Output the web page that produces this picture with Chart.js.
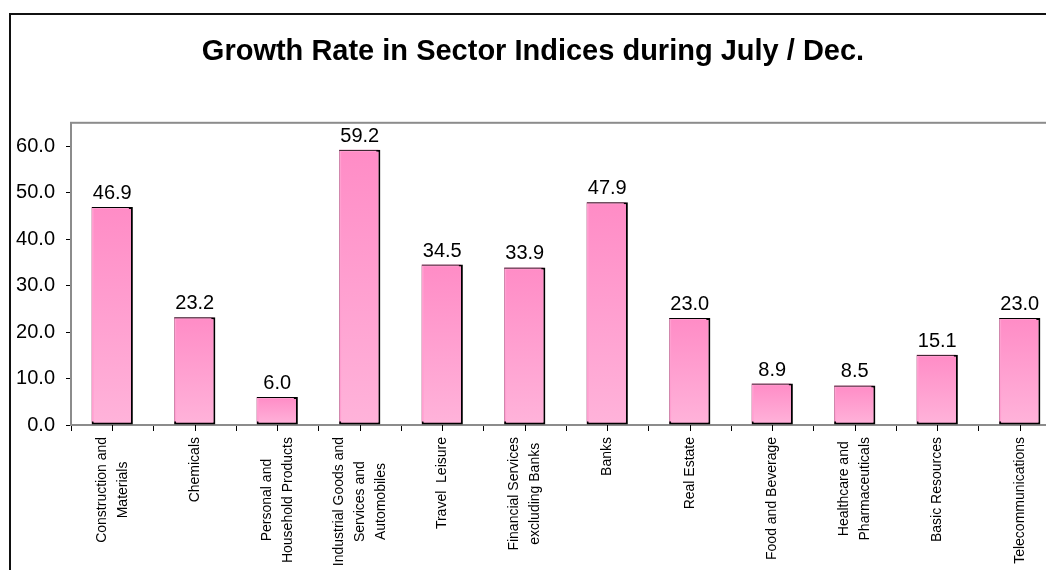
<!DOCTYPE html>
<html>
<head>
<meta charset="utf-8">
<script src="https://cdn.jsdelivr.net/npm/chart.js@4"></script>
<style>
  html, body { margin: 0; padding: 0; background: #fff; overflow: hidden; }
  #frame {
    position: absolute; left: 9px; top: 13px; width: 1100px; height: 620px;
    border-left: 2px solid #111; border-top: 2px solid #111;
  }
  #wrap { position: absolute; left: 0; top: 0; width: 1066px; height: 600px; }
</style>
</head>
<body>
<div id="frame"></div>
<div id="wrap"><canvas id="barChart"></canvas></div>
<script>
const sectors = [
  ["Construction and", "Materials"],
  ["Chemicals"],
  ["Personal and", "Household Products"],
  ["Industrial Goods and", "Services and", "Automobiles"],
  ["Travel  Leisure"],
  ["Financial Services", "excluding Banks"],
  ["Banks"],
  ["Real Estate"],
  ["Food and Beverage"],
  ["Healthcare and", "Pharmaceuticals"],
  ["Basic Resources"],
  ["Telecommunications"],
];
const growthRates = [46.9, 23.2, 6.0, 59.2, 34.5, 33.9, 47.9, 23.0, 8.9, 8.5, 15.1, 23.0];
const yTicks = [0, 10, 20, 30, 40, 50, 60];

// per-bar vertical gradient, darker pink at the top
function barFill(context) {
  const chart = context.chart;
  if (!chart.chartArea) return "#ff9fcf";
  const y = chart.scales.y;
  const top = y.getPixelForValue(context.raw);
  const bottom = y.getPixelForValue(0);
  const g = chart.ctx.createLinearGradient(0, top, 0, bottom);
  g.addColorStop(0, "#ff8cc6");
  g.addColorStop(1, "#ffb3da");
  return g;
}

const plotFrame = {
  id: "plotFrame",
  beforeDatasetsDraw(chart) {
    const { ctx, chartArea: a } = chart;
    ctx.save();
    ctx.strokeStyle = "#8c8c8c";
    ctx.lineWidth = 2;
    ctx.strokeRect(a.left, a.top, a.right - a.left, a.bottom - a.top);
    ctx.restore();
  },
};

// pink offset behind each bar
const barShadow = {
  id: "barShadow",
  beforeDatasetDraw(chart) {
    const ctx = chart.ctx;
    ctx.save();
    ctx.shadowColor = "#ff9fd0";
    ctx.shadowOffsetX = -2;
    ctx.shadowOffsetY = -1;
    ctx.shadowBlur = 0;
  },
  afterDatasetDraw(chart) {
    chart.ctx.restore();
  },
};

const valueLabels = {
  id: "valueLabels",
  afterDatasetsDraw(chart) {
    const { ctx } = chart;
    const meta = chart.getDatasetMeta(0);
    ctx.save();
    ctx.font = "20px Arial, 'Liberation Sans'";
    ctx.fillStyle = "#000";
    ctx.textAlign = "center";
    ctx.textBaseline = "alphabetic";
    meta.data.forEach((bar, i) => {
      ctx.fillText(growthRates[i].toFixed(1), bar.x, bar.y - 8);
    });
    ctx.restore();
  },
};

// category names: rotated, lines centred on each other, ending near the axis
const sectorLabels = {
  id: "sectorLabels",
  afterDraw(chart) {
    const { ctx, chartArea } = chart;
    const x = chart.scales.x;
    ctx.save();
    ctx.font = "14px Arial, 'Liberation Sans'";
    ctx.fillStyle = "#000";
    ctx.strokeStyle = "#000";
    ctx.lineWidth = 1;
    sectors.forEach((lines, i) => {
      const cx = x.getPixelForValue(i);
      // tick mark under the bar centre
      ctx.beginPath();
      ctx.moveTo(Math.round(cx) + 0.5, chartArea.bottom);
      ctx.lineTo(Math.round(cx) + 0.5, chartArea.bottom + 6);
      ctx.stroke();

      const widest = Math.max(...lines.map((l) => ctx.measureText(l).width));
      ctx.save();
      ctx.translate(cx, chartArea.bottom + 12);
      ctx.rotate(-Math.PI / 2);
      ctx.textAlign = "center";
      ctx.textBaseline = "middle";
      lines.forEach((line, k) => {
        const off = (k - (lines.length - 1) / 2) * 21;
        ctx.fillText(line, -widest / 2, off);
      });
      ctx.restore();
    });
    ctx.restore();
  },
};

document.addEventListener("DOMContentLoaded", function () {
  const ctx = document.getElementById("barChart").getContext("2d");
  const barChart = new Chart(ctx, {
    type: "bar",
    data: {
      labels: sectors,
      datasets: [
        {
          label: "Growth Rate",
          data: growthRates,
          backgroundColor: barFill,
          borderColor: "#000",
          borderWidth: 2,
          borderSkipped: false,
          barPercentage: 0.5,
          categoryPercentage: 1,
        },
      ],
    },
    options: {
      responsive: true,
      maintainAspectRatio: false,
      animation: false,
      layout: { padding: { left: 5, right: 5, top: 0, bottom: 0 } },
      plugins: {
        legend: { display: false },
        tooltip: { enabled: false },
        title: {
          display: true,
          text: "Growth Rate in Sector Indices during July / Dec.",
          color: "#000",
          font: { family: "Arial, 'Liberation Sans'", size: 29, weight: "bold", lineHeight: 1.2 },
          padding: { top: 35, bottom: 53 },
        },
      },
      scales: {
        x: {
          grid: { offset: true, drawOnChartArea: false, drawTicks: true, tickLength: 6, color: "#000" },
          border: { color: "#000", width: 2 },
          ticks: { display: false },
          afterFit(scale) {
            scale.height = 175;
          },
        },
        y: {
          min: 0,
          max: 65,
          grid: { drawOnChartArea: false, drawTicks: true, tickLength: 5, color: "#000" },
          border: { color: "#000", width: 2 },
          afterBuildTicks(scale) {
            scale.ticks = yTicks.map((v) => ({ value: v }));
          },
          ticks: {
            includeBounds: false,
            padding: 11,
            color: "#000",
            font: { family: "Arial, 'Liberation Sans'", size: 20 },
            callback: (v) => Number(v).toFixed(1),
          },
          afterFit(scale) {
            scale.width = 66;
          },
        },
      },
    },
    plugins: [plotFrame, barShadow, valueLabels, sectorLabels],
  });
});
</script>
</body>
</html>
